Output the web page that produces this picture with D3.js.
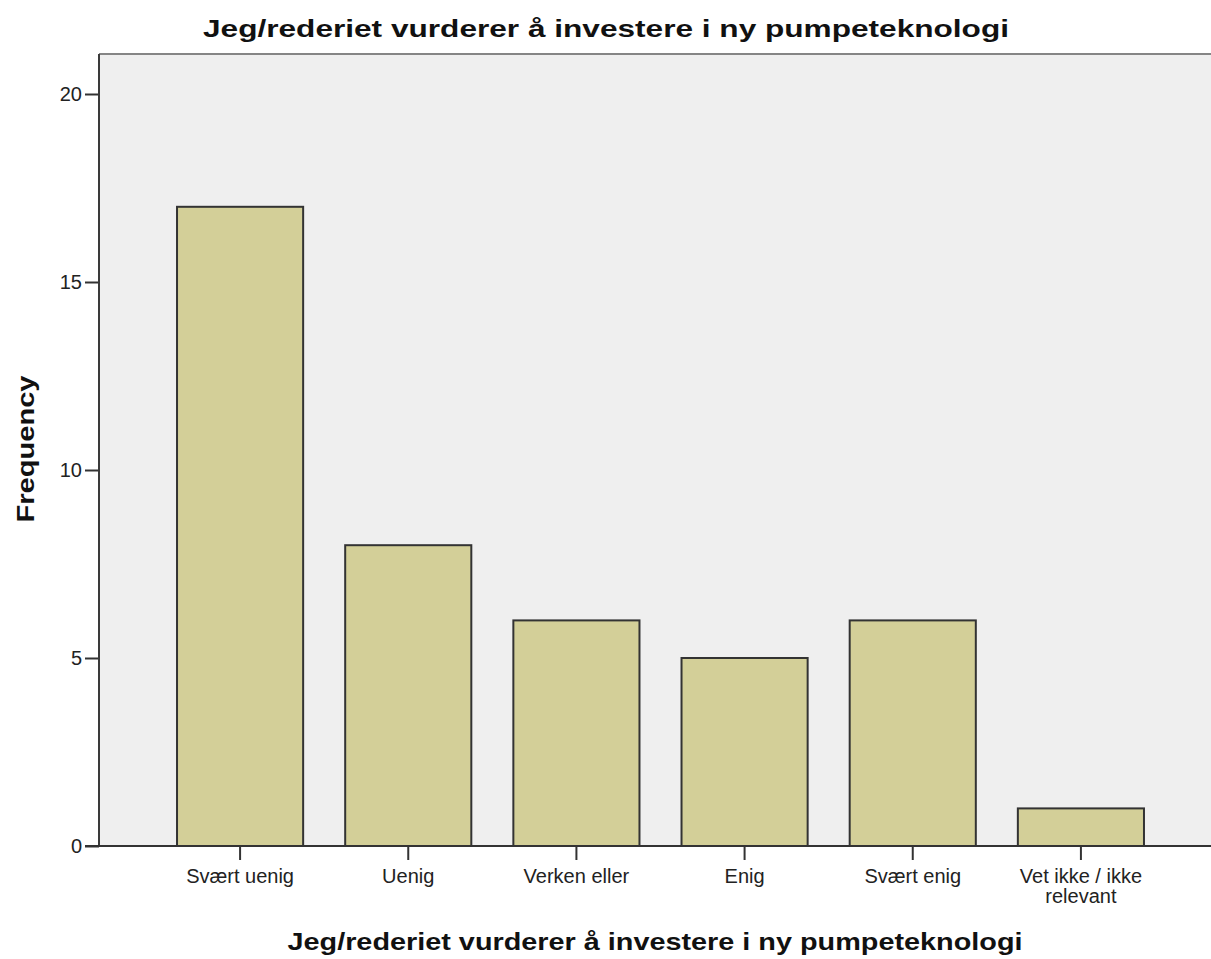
<!DOCTYPE html>
<html>
<head>
<meta charset="utf-8">
<script src="https://cdn.jsdelivr.net/npm/d3@7"></script>
<style>
  html, body { margin: 0; padding: 0; background: #ffffff; }
  svg { display: block; }
  text { font-family: "Liberation Sans", Arial, sans-serif; }
</style>
</head>
<body>
<div id="chart"></div>
<script>
// Response categories and counts
const categories = ["Svært uenig", "Uenig", "Verken eller", "Enig", "Svært enig", "Vet ikke / ikke relevant"];
const categoryLines = [["Svært uenig"], ["Uenig"], ["Verken eller"], ["Enig"], ["Svært enig"], ["Vet ikke / ikke", "relevant"]];
const frequencies = [17, 8, 6, 5, 6, 1];
const yTicks = [0, 5, 10, 15, 20];
const chartTitle = "Jeg/rederiet vurderer å investere i ny pumpeteknologi";
const xAxisTitle = "Jeg/rederiet vurderer å investere i ny pumpeteknologi";
const yAxisTitle = "Frequency";

const W = 1211, H = 959;
const plot = { left: 99, right: 1212, top: 54, bottom: 846 };

const svg = d3.select("#chart").append("svg")
  .attr("width", W).attr("height", H);

// Scales
const y = d3.scaleLinear().domain([0, 20]).range([plot.bottom, 94]);
const x = d3.scaleBand().domain(categories)
  .range([156, 1165]).paddingInner(0.25).paddingOuter(0.125);

// Plot background
svg.append("rect")
  .attr("x", plot.left).attr("y", plot.top)
  .attr("width", plot.right - plot.left).attr("height", plot.bottom - plot.top)
  .attr("fill", "#efefef");

// Top frame line
svg.append("line")
  .attr("x1", plot.left).attr("x2", plot.right)
  .attr("y1", plot.top).attr("y2", plot.top)
  .attr("stroke", "#858585").attr("stroke-width", 2);

// Bars
svg.append("g").selectAll("rect")
  .data(frequencies)
  .join("rect")
  .attr("x", (d, i) => x(categories[i]))
  .attr("y", d => y(d))
  .attr("width", x.bandwidth())
  .attr("height", d => y(0) - y(d))
  .attr("fill", "#d3cf98")
  .attr("stroke", "#333333")
  .attr("stroke-width", 2);

// Y axis
const yAxis = svg.append("g")
  .attr("transform", `translate(${plot.left},0)`)
  .call(d3.axisLeft(y).tickValues(yTicks).tickSize(14).tickPadding(3).tickFormat(d3.format("d")));
yAxis.select(".domain").remove();
yAxis.selectAll(".tick line").attr("stroke", "#333").attr("stroke-width", 2);
yAxis.selectAll(".tick text")
  .attr("font-size", 20).attr("fill", "#222")
  .attr("font-family", "Liberation Sans, Arial, sans-serif");
svg.append("line")
  .attr("x1", plot.left).attr("x2", plot.left)
  .attr("y1", plot.top).attr("y2", plot.bottom)
  .attr("stroke", "#3a3a3a").attr("stroke-width", 2);

// X axis
const xAxis = svg.append("g")
  .attr("transform", `translate(0,${plot.bottom})`)
  .call(d3.axisBottom(x).tickSize(14).tickFormat(""));
xAxis.select(".domain").remove();
xAxis.selectAll(".tick line").attr("stroke", "#333").attr("stroke-width", 2);
svg.append("line")
  .attr("x1", plot.left - 14).attr("x2", plot.right)
  .attr("y1", plot.bottom).attr("y2", plot.bottom)
  .attr("stroke", "#333").attr("stroke-width", 2);

// Category labels (multi-line where needed)
const catLabels = svg.append("g").selectAll("text")
  .data(categories)
  .join("text")
  .attr("x", d => x(d) + x.bandwidth() / 2)
  .attr("y", 883)
  .attr("text-anchor", "middle")
  .attr("font-size", 20)
  .attr("fill", "#222");
catLabels.each(function (d, i) {
  d3.select(this).selectAll("tspan")
    .data(categoryLines[i])
    .join("tspan")
    .attr("x", x(d) + x.bandwidth() / 2)
    .attr("dy", (t, j) => j === 0 ? 0 : 20)
    .text(t => t);
});

// Chart title
svg.append("text")
  .attr("x", 606).attr("y", 37)
  .attr("text-anchor", "middle")
  .attr("font-size", 24).attr("font-weight", "bold").attr("fill", "#111")
  .attr("textLength", 806).attr("lengthAdjust", "spacingAndGlyphs")
  .text(chartTitle);

// X axis title
svg.append("text")
  .attr("x", 655).attr("y", 950)
  .attr("text-anchor", "middle")
  .attr("font-size", 24).attr("font-weight", "bold").attr("fill", "#111")
  .attr("textLength", 735).attr("lengthAdjust", "spacingAndGlyphs")
  .text(xAxisTitle);

// Y axis title
svg.append("text")
  .attr("transform", "translate(34,449) rotate(-90)")
  .attr("text-anchor", "middle")
  .attr("font-size", 23).attr("font-weight", "bold").attr("fill", "#111")
  .attr("textLength", 147).attr("lengthAdjust", "spacingAndGlyphs")
  .text(yAxisTitle);
</script>
</body>
</html>
